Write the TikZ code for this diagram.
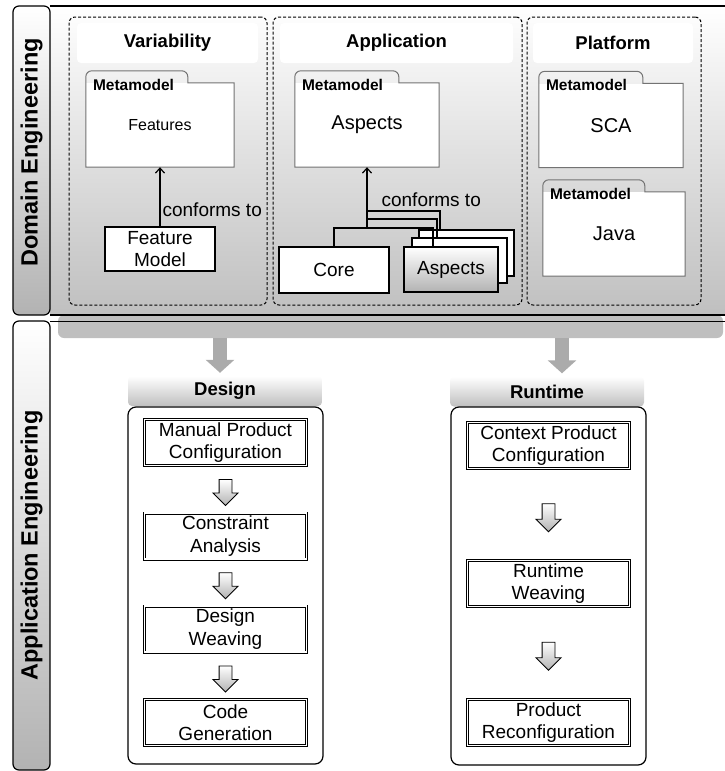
\documentclass[tikz,border=0pt]{standalone}
\usepackage{fontspec}
\setmainfont{Liberation Sans}
\usetikzlibrary{arrows.meta,shapes.arrows,positioning}

\newcommand{\fsz}[2]{\fontsize{#1}{#2}\selectfont}

\tikzset{
  lanebar/.style={draw=black,line width=1.2pt,rounded corners=6pt,top color=white,bottom color=black!30,
    rotate=90,minimum height=37pt,font=\fsz{23.5}{26}\bfseries},
  panel/.style={top color=white,bottom color=black!25,minimum width=675pt,minimum height=309pt,inner sep=0pt},
  flowband/.style={fill=black!25,rounded corners=6pt,minimum width=665pt,minimum height=23pt},
  column/.style={draw=black,line width=1pt,dash pattern=on 3pt off 2pt,rounded corners=6pt,minimum height=288pt},
  colhead/.style={fill=white,rounded corners=4pt,minimum height=40pt,font=\fsz{18.5}{22}\bfseries},
  mmbody/.style={fill=white,minimum height=84pt,font=\fsz{16}{19}},
  mmline/.style={draw=black!55,line width=1pt},
  mmtag/.style={anchor=west,inner sep=0pt,font=\fsz{15.5}{18}\bfseries},
  model/.style={draw=black,line width=1.2pt,fill=white,font=\fsz{19}{22}},
  conform/.style={line width=1.2pt},
  bigflow/.style={draw=black!33,line width=14pt,-{Triangle[width=28pt,length=13pt]},shorten >=3pt},
  stagehead/.style={top color=white,bottom color=black!25,rounded corners=4pt,minimum height=30pt,
    font=\fsz{18.5}{22}\bfseries},
  stagebox/.style={draw=black,line width=1.2pt,rounded corners=8pt},
  stepbox/.style={draw=black,double,double distance=1.6pt,line width=0.7pt,fill=white,
    minimum width=162pt,minimum height=46pt,font=\fsz{19}{22.5}},
  hollowarrow/.style={single arrow,draw=black,line width=0.9pt,top color=white,bottom color=black!30,
    shape border rotate=270,minimum height=26pt,minimum width=24pt,single arrow head extend=6pt,inner sep=6pt}
}

\begin{document}
\begin{tikzpicture}[x=1pt,y=-1pt,>={Straight Barb[length=5pt,width=9pt]},
    every node/.style={inner sep=2pt,align=center}]
  \useasboundingbox (0,0) rectangle (725,771);

  \node[flowband] (band) at (390.5,326.5) {};
  \node[panel] (dompanel) at (387.5,160.5) {};
  \draw[line width=2pt] (dompanel.north west) -- (dompanel.north east);
  \draw[line width=2pt] (dompanel.south west) -- (dompanel.south east);
  \draw[line width=1pt] ([yshift=-6pt]dompanel.south west) -- ([yshift=-6pt]dompanel.south east);

  \node[lanebar,minimum width=309pt] (domlane) at (31.5,160.5) {\hspace*{16pt}Domain Engineering};
  \node[lanebar,minimum width=449pt] (applane) at (31.5,545.5) {Application Engineering};

  \node[column,minimum width=198pt] (varcol) at (168,161) {};
  \node[column,minimum width=249pt] (appcol) at (397.5,161) {};
  \node[column,minimum width=174pt] (platcol) at (614,161) {};

  \node[colhead,minimum width=181pt] (varhead) at (167.5,43) {Variability};
  \node[colhead,minimum width=233pt] (apphead) at (396.5,43) {Application};
  \node[colhead,minimum width=160pt] (plathead) at (613,43) {Platform};

  \node[mmbody,minimum width=148pt] (featmm) at (160,125) {Features};
  \node[mmbody,minimum width=144pt,font=\fsz{20}{24}] (aspmm) at (367,125) {Aspects};
  \node[mmbody,minimum width=144pt,font=\fsz{20}{24}] (scamm) at (611,125.5) {SCA};
  \node[mmbody,minimum width=142pt,font=\fsz{20}{24}] (javamm) at (614,234) {Java};
  \foreach \mm/\tabw in {featmm/102,aspmm/104,scamm/104,javamm/102}{
    \draw[mmline] (\mm.north west) [rounded corners=6pt] -- ++(0,-12) -- ++(\tabw,0) [sharp corners] -- ++(0,12)
      -- (\mm.north east) -- (\mm.south east) -- (\mm.south west) -- cycle;
    \node[mmtag] (\mm-tag) at ([xshift=7pt,yshift=-2pt]\mm.north west) {Metamodel};
  }

  \node[model,minimum width=110pt,minimum height=44pt] (featmodel) at (160,249) {Feature\\Model};
  \draw[->,conform] (featmodel) -- (featmm) node[pos=0.28,right,font=\fsz{19}{22}] {conforms to};

  \node[model,minimum width=95pt,minimum height=46pt] (aspback) at (466.5,253) {};
  \node[model,minimum width=95pt,minimum height=45pt] (aspmid) at (459.5,260.5) {};
  \node[model,top color=white,bottom color=black!30,minimum width=94pt,minimum height=45pt] (aspfront) at (451,269.5) {Aspects};
  \node[model,minimum width=110pt,minimum height=46pt] (core) at (334,270) {Core};

  \coordinate (join1) at (367,228);
  \coordinate (join2) at (367,219);
  \coordinate (join3) at (367,211);
  \draw[conform] (core.north) |- (join1) -| ([xshift=-18pt]aspfront.north);
  \draw[conform] (join2) -| ([xshift=-22.5pt]aspmid.north);
  \draw[conform] (join3) -| ([xshift=-26.5pt]aspback.north);
  \draw[->,conform] (join1) -- (aspmm) node[pos=0.47,right=12pt,font=\fsz{19}{22}] {conforms to};

  \coordinate (designin) at (220,338);
  \coordinate (runtimein) at (562,338);
  \node[stagehead,minimum width=194pt] (designhead) at (225,391) {Design};
  \node[stagehead,minimum width=194pt] (runtimehead) at (547,391.5) {Runtime};
  \draw[bigflow] (designin) -- (designin |- designhead.north);
  \draw[bigflow] (runtimein) -- (runtimein |- runtimehead.north);

  \node[stagebox,minimum width=195pt,minimum height=357pt] (designbox) at (225.5,585.5) {};
  \node[stagebox,minimum width=195pt,minimum height=358pt] (runtimebox) at (548.5,586) {};

  \node[stepbox] (mpc) at (225.5,442.5) {Manual Product\\Configuration};
  \node[stepbox] (ca) at (225.5,536) {Constraint\\Analysis};
  \node[stepbox] (dw) at (225.5,629) {Design\\Weaving};
  \node[stepbox] (cg) at (225.5,722.5) {Code\\Generation};
  \node[stepbox] (cpc) at (548.5,445.5) {Context Product\\Configuration};
  \node[stepbox] (rw) at (548.5,583.5) {Runtime\\Weaving};
  \node[stepbox] (pr) at (548.5,722.5) {Product\\Reconfiguration};

  \path (mpc) -- node[hollowarrow] (flow1) {} (ca);
  \path (ca) -- node[hollowarrow] (flow2) {} (dw);
  \path (dw) -- node[hollowarrow] (flow3) {} (cg);
  \path (cpc) -- node[hollowarrow,minimum height=28pt] (flow4) {} (rw);
  \path (rw) -- node[hollowarrow,minimum height=28pt] (flow5) {} (pr);
\end{tikzpicture}
\end{document}
